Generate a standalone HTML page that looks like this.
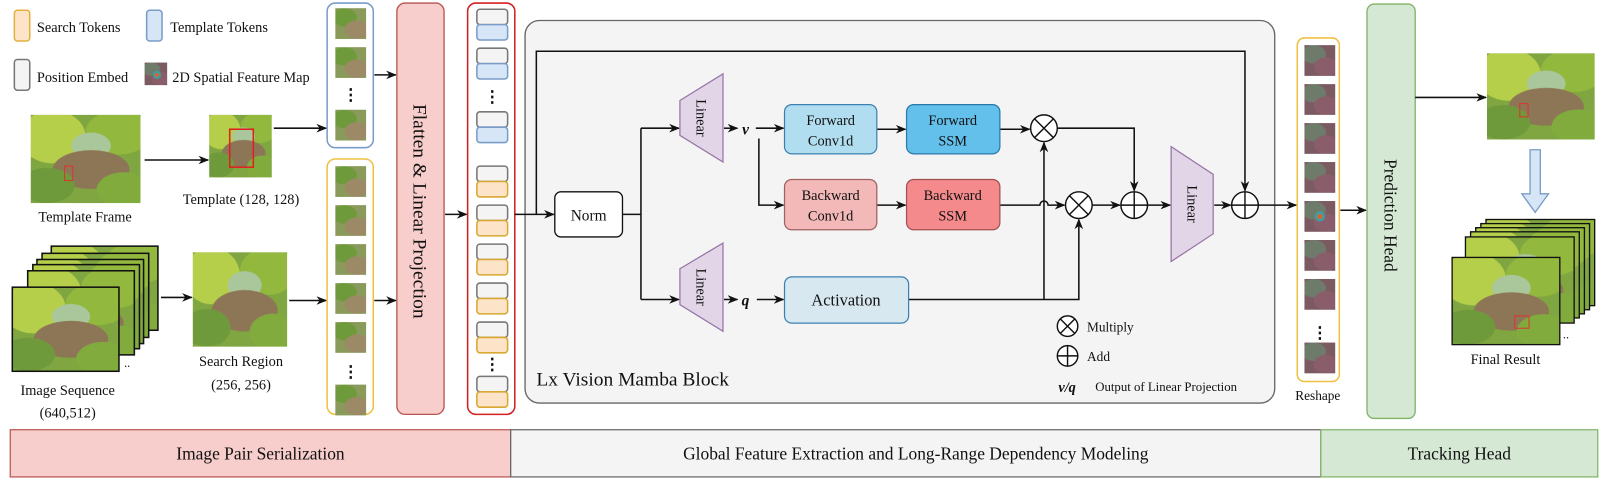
<!DOCTYPE html>
<html><head><meta charset="utf-8"><style>
html,body{margin:0;padding:0;background:#fff}
svg{display:block}
text{font-family:"Liberation Serif",serif;fill:#111}
</style></head><body>
<svg width="1608" height="480" viewBox="0 0 1568 468" preserveAspectRatio="none" xmlns="http://www.w3.org/2000/svg">
<defs>
<marker id="ar" viewBox="0 0 10 10" refX="9" refY="5" markerWidth="7" markerHeight="7" orient="auto"><path d="M0,1 L10,5 L0,9 L3,5 z" fill="#111"/></marker>
<pattern id="ph" patternUnits="objectBoundingBox" patternContentUnits="objectBoundingBox" width="1" height="1">
<rect width="1" height="1" fill="#7fa640"/>
<ellipse cx="0.2" cy="0.25" rx="0.3" ry="0.3" fill="#b6cf4a"/>
<ellipse cx="0.8" cy="0.2" rx="0.3" ry="0.25" fill="#93b83e"/>
<ellipse cx="0.55" cy="0.35" rx="0.18" ry="0.15" fill="#a9c79b"/>
<ellipse cx="0.55" cy="0.62" rx="0.35" ry="0.22" fill="#8d7655"/>
<ellipse cx="0.15" cy="0.8" rx="0.25" ry="0.2" fill="#6f9a3c"/>
<ellipse cx="0.85" cy="0.85" rx="0.25" ry="0.2" fill="#82ab3e"/>
</pattern>
<pattern id="pt" patternUnits="objectBoundingBox" patternContentUnits="objectBoundingBox" width="1" height="1">
<rect width="1" height="1" fill="#8a9a5a"/>
<ellipse cx="0.3" cy="0.3" rx="0.4" ry="0.3" fill="#6f9a3c"/>
<ellipse cx="0.7" cy="0.7" rx="0.4" ry="0.3" fill="#9c8a66"/>
</pattern>
<pattern id="pr" patternUnits="objectBoundingBox" patternContentUnits="objectBoundingBox" width="1" height="1">
<rect width="1" height="1" fill="#7c5a62"/>
<ellipse cx="0.3" cy="0.3" rx="0.4" ry="0.3" fill="#6e7a6a"/>
<ellipse cx="0.7" cy="0.7" rx="0.4" ry="0.3" fill="#8a5d6a"/>
</pattern>
</defs>

<!-- legend -->
<rect x="14" y="10" width="15" height="30" rx="3" fill="#fde3c8" stroke="#e3b23c" stroke-width="1.5"/>
<text x="36" y="31" font-size="14">Search Tokens</text>
<rect x="143" y="10" width="15" height="30" rx="3" fill="#d7e6f7" stroke="#7a9cc8" stroke-width="1.5"/>
<text x="166" y="31" font-size="14">Template Tokens</text>
<rect x="14" y="58" width="15" height="30" rx="3" fill="#f4f4f4" stroke="#777" stroke-width="1.5"/>
<text x="36" y="80" font-size="14">Position Embed</text>
<rect x="141" y="61" width="22" height="22" fill="url(#pr)"/>
<circle cx="153" cy="73" r="4" fill="#3aa0a0"/><circle cx="153" cy="73" r="2" fill="#e06030"/>
<text x="168" y="80" font-size="14">2D Spatial Feature Map</text>

<!-- template frame -->
<rect x="30" y="112" width="107" height="86" fill="url(#ph)"/>
<rect x="63" y="162" width="8" height="14" fill="none" stroke="#d33" stroke-width="1"/>
<text x="83" y="216" font-size="14" text-anchor="middle">Template Frame</text>
<line x1="141" y1="156" x2="203" y2="156" stroke="#111" stroke-width="1.5" marker-end="url(#ar)"/>
<rect x="204" y="112" width="61" height="61" fill="url(#ph)"/>
<rect x="224" y="126" width="23" height="37" fill="none" stroke="#e02020" stroke-width="1.5"/>
<text x="235" y="199" font-size="14" text-anchor="middle">Template (128, 128)</text>
<line x1="267" y1="125" x2="318" y2="125" stroke="#111" stroke-width="1.5" marker-end="url(#ar)"/>

<!-- image sequence -->
<rect x="50" y="240" width="104" height="82" fill="url(#ph)" stroke="#111" stroke-width="1.5"/>
<rect x="41" y="247" width="104" height="82" fill="url(#ph)" stroke="#111" stroke-width="1.5"/>
<rect x="36" y="253" width="104" height="82" fill="url(#ph)" stroke="#111" stroke-width="1.5"/>
<rect x="32" y="258" width="104" height="82" fill="url(#ph)" stroke="#111" stroke-width="1.5"/>
<rect x="27" y="264" width="104" height="82" fill="url(#ph)" stroke="#111" stroke-width="1.5"/>
<rect x="12" y="280" width="104" height="82" fill="url(#ph)" stroke="#111" stroke-width="1.5"/>
<text x="121" y="358" font-size="12">..</text>
<text x="66" y="385" font-size="14" text-anchor="middle">Image Sequence</text>
<text x="66" y="407" font-size="14" text-anchor="middle">(640,512)</text>
<line x1="157" y1="290" x2="187" y2="290" stroke="#111" stroke-width="1.5" marker-end="url(#ar)"/>
<rect x="188" y="246" width="92" height="92" fill="url(#ph)"/>
<text x="235" y="357" font-size="14" text-anchor="middle">Search Region</text>
<text x="235" y="380" font-size="14" text-anchor="middle">(256, 256)</text>
<line x1="282" y1="293" x2="318" y2="293" stroke="#111" stroke-width="1.5" marker-end="url(#ar)"/>

<!-- template tokens -->
<rect x="319" y="3" width="45" height="141" rx="8" fill="#fff" stroke="#7a9cc8" stroke-width="1.5"/>
<rect x="327" y="8" width="30" height="30" fill="url(#pt)"/>
<rect x="327" y="46" width="30" height="30" fill="url(#pt)"/>
<text x="342" y="98" font-size="16" text-anchor="middle" font-weight="bold">⋮</text>
<rect x="327" y="107" width="30" height="30" fill="url(#pt)"/>
<!-- search tokens -->
<rect x="319" y="155" width="45" height="249" rx="8" fill="#fff" stroke="#f0c040" stroke-width="1.5"/>
<rect x="327" y="162" width="30" height="30" fill="url(#pt)"/>
<rect x="327" y="200" width="30" height="30" fill="url(#pt)"/>
<rect x="327" y="238" width="30" height="30" fill="url(#pt)"/>
<rect x="327" y="276" width="30" height="30" fill="url(#pt)"/>
<rect x="327" y="314" width="30" height="30" fill="url(#pt)"/>
<text x="342" y="368" font-size="16" text-anchor="middle" font-weight="bold">⋮</text>
<rect x="327" y="375" width="30" height="30" fill="url(#pt)"/>
<line x1="365" y1="73" x2="386" y2="73" stroke="#111" stroke-width="1.5" marker-end="url(#ar)"/>
<line x1="365" y1="293" x2="386" y2="293" stroke="#111" stroke-width="1.5" marker-end="url(#ar)"/>

<!-- flatten -->
<rect x="387" y="3" width="46" height="401" rx="8" fill="#f8cecc" stroke="#b85450" stroke-width="1.3"/>
<text transform="translate(403,206) rotate(90)" font-size="19" text-anchor="middle">Flatten &amp; Linear Projection</text>
<line x1="434" y1="209" x2="455" y2="209" stroke="#111" stroke-width="1.5" marker-end="url(#ar)"/>

<!-- token column -->
<rect x="456" y="3" width="46" height="401" rx="8" fill="#fff" stroke="#d42020" stroke-width="1.5"/>
<g stroke-width="1.5">
<rect x="465" y="9" width="30" height="15" rx="3" fill="#f4f4f4" stroke="#777"/><rect x="465" y="24" width="30" height="15" rx="3" fill="#d7e6f7" stroke="#7a9cc8"/>
<rect x="465" y="47" width="30" height="15" rx="3" fill="#f4f4f4" stroke="#777"/><rect x="465" y="62" width="30" height="15" rx="3" fill="#d7e6f7" stroke="#7a9cc8"/>
<rect x="465" y="109" width="30" height="15" rx="3" fill="#f4f4f4" stroke="#777"/><rect x="465" y="124" width="30" height="15" rx="3" fill="#d7e6f7" stroke="#7a9cc8"/>
<rect x="465" y="162" width="30" height="15" rx="3" fill="#f4f4f4" stroke="#777"/><rect x="465" y="177" width="30" height="15" rx="3" fill="#fde3c8" stroke="#d8a830"/>
<rect x="465" y="200" width="30" height="15" rx="3" fill="#f4f4f4" stroke="#777"/><rect x="465" y="215" width="30" height="15" rx="3" fill="#fde3c8" stroke="#d8a830"/>
<rect x="465" y="238" width="30" height="15" rx="3" fill="#f4f4f4" stroke="#777"/><rect x="465" y="253" width="30" height="15" rx="3" fill="#fde3c8" stroke="#d8a830"/>
<rect x="465" y="276" width="30" height="15" rx="3" fill="#f4f4f4" stroke="#777"/><rect x="465" y="291" width="30" height="15" rx="3" fill="#fde3c8" stroke="#d8a830"/>
<rect x="465" y="314" width="30" height="15" rx="3" fill="#f4f4f4" stroke="#777"/><rect x="465" y="329" width="30" height="15" rx="3" fill="#fde3c8" stroke="#d8a830"/>
<rect x="465" y="367" width="30" height="15" rx="3" fill="#f4f4f4" stroke="#777"/><rect x="465" y="382" width="30" height="15" rx="3" fill="#fde3c8" stroke="#d8a830"/>
</g>
<text x="480" y="100" font-size="16" text-anchor="middle" font-weight="bold">⋮</text>
<text x="480" y="361" font-size="16" text-anchor="middle" font-weight="bold">⋮</text>

<!-- mamba block -->
<rect x="512" y="20" width="731" height="373" rx="14" fill="#f4f4f4" stroke="#666" stroke-width="1.3"/>
<g stroke="#111" stroke-width="1.5" fill="none">
<line x1="502" y1="209" x2="540" y2="209" marker-end="url(#ar)"/>
<polyline points="523,209 523,50 1214,50 1214,186" marker-end="url(#ar)"/>
<line x1="607" y1="209" x2="625" y2="209"/>
<polyline points="625,125 625,292"/>
<line x1="625" y1="125" x2="662" y2="125" marker-end="url(#ar)"/>
<line x1="625" y1="292" x2="662" y2="292" marker-end="url(#ar)"/>
<line x1="706" y1="125" x2="719" y2="125" marker-end="url(#ar)"/>
<line x1="706" y1="292" x2="719" y2="292" marker-end="url(#ar)"/>
<line x1="737" y1="125" x2="764" y2="125" marker-end="url(#ar)"/>
<polyline points="740,135 740,200 764,200" marker-end="url(#ar)"/>
<line x1="738" y1="292" x2="764" y2="292" marker-end="url(#ar)"/>
<line x1="855" y1="126" x2="883" y2="126" marker-end="url(#ar)"/>
<line x1="855" y1="200" x2="883" y2="200" marker-end="url(#ar)"/>
<line x1="975" y1="126" x2="1004" y2="126" marker-end="url(#ar)"/>
<polyline points="1031,125 1106,125 1106,186" marker-end="url(#ar)"/>
<path d="M975,200 L1014,200 A4,4 0 0 1 1022,200 L1038,200" marker-end="url(#ar)"/>
<polyline points="886,292 1052,292 1052,214" marker-end="url(#ar)"/>
<line x1="1018" y1="292" x2="1018" y2="139" marker-end="url(#ar)"/>
<line x1="1065" y1="200" x2="1092" y2="200" marker-end="url(#ar)"/>
<line x1="1119" y1="200" x2="1141" y2="200" marker-end="url(#ar)"/>
<line x1="1184" y1="200" x2="1200" y2="200" marker-end="url(#ar)"/>
<line x1="1227" y1="200" x2="1264" y2="200" marker-end="url(#ar)"/>
</g>
<rect x="541" y="187" width="66" height="44" rx="6" fill="#fff" stroke="#111" stroke-width="1.3"/>
<text x="574" y="215" font-size="15" text-anchor="middle">Norm</text>
<polygon points="663,98 705,72 705,158 663,132" fill="#e1d5e7" stroke="#9673a6" stroke-width="1.2"/>
<text transform="translate(679,115) rotate(90)" font-size="14" text-anchor="middle">Linear</text>
<polygon points="663,262 705,237 705,323 663,297" fill="#e1d5e7" stroke="#9673a6" stroke-width="1.2"/>
<text transform="translate(679,280) rotate(90)" font-size="14" text-anchor="middle">Linear</text>
<polygon points="1142,143 1183,170 1183,228 1142,255" fill="#e1d5e7" stroke="#9673a6" stroke-width="1.2"/>
<text transform="translate(1158,199) rotate(90)" font-size="14" text-anchor="middle">Linear</text>
<text x="727" y="131" font-size="15" font-style="italic" font-weight="bold" text-anchor="middle">v</text>
<text x="727" y="298" font-size="15" font-style="italic" font-weight="bold" text-anchor="middle">q</text>
<rect x="765" y="102" width="90" height="48" rx="7" fill="#b1ddf0" stroke="#3b80b0" stroke-width="1.2"/>
<text x="810" y="122" font-size="14" text-anchor="middle">Forward</text><text x="810" y="142" font-size="14" text-anchor="middle">Conv1d</text>
<rect x="884" y="102" width="91" height="48" rx="7" fill="#63c0ea" stroke="#2a78a8" stroke-width="1.2"/>
<text x="929" y="122" font-size="14" text-anchor="middle">Forward</text><text x="929" y="142" font-size="14" text-anchor="middle">SSM</text>
<rect x="765" y="175" width="90" height="49" rx="7" fill="#f3b8b8" stroke="#a06060" stroke-width="1.2"/>
<text x="810" y="195" font-size="14" text-anchor="middle">Backward</text><text x="810" y="215" font-size="14" text-anchor="middle">Conv1d</text>
<rect x="884" y="175" width="91" height="49" rx="7" fill="#f48a8c" stroke="#a05050" stroke-width="1.2"/>
<text x="929" y="195" font-size="14" text-anchor="middle">Backward</text><text x="929" y="215" font-size="14" text-anchor="middle">SSM</text>
<rect x="765" y="270" width="121" height="45" rx="7" fill="#d7e8f0" stroke="#3b80b0" stroke-width="1.2"/>
<text x="825" y="298" font-size="16" text-anchor="middle">Activation</text>
<g fill="#fff" stroke="#111" stroke-width="1.4">
<circle cx="1018" cy="125" r="13"/><path d="M1009,116 L1027,134 M1027,116 L1009,134"/>
<circle cx="1052" cy="200" r="13"/><path d="M1043,191 L1061,209 M1061,191 L1043,209"/>
<circle cx="1106" cy="200" r="13"/><path d="M1093,200 H1119 M1106,187 V213"/>
<circle cx="1214" cy="200" r="13"/><path d="M1201,200 H1227 M1214,187 V213"/>
<circle cx="1041" cy="318" r="10"/><path d="M1034,311 L1048,325 M1048,311 L1034,325"/>
<circle cx="1041" cy="347" r="10"/><path d="M1031,347 H1051 M1041,337 V357"/>
</g>
<text x="1060" y="323" font-size="13">Multiply</text>
<text x="1060" y="352" font-size="13">Add</text>
<text x="1032" y="382" font-size="14" font-style="italic" font-weight="bold">v/q</text>
<text x="1068" y="381" font-size="12.5">Output of Linear Projection</text>
<text x="523" y="376" font-size="19">Lx Vision Mamba Block</text>

<!-- reshape -->
<rect x="1265" y="37" width="41" height="335" rx="7" fill="#fff" stroke="#f0c040" stroke-width="1.5"/>
<rect x="1272" y="44" width="30" height="30" fill="url(#pr)"/>
<rect x="1272" y="82" width="30" height="30" fill="url(#pr)"/>
<rect x="1272" y="120" width="30" height="30" fill="url(#pr)"/>
<rect x="1272" y="158" width="30" height="30" fill="url(#pr)"/>
<rect x="1272" y="196" width="30" height="30" fill="url(#pr)"/>
<circle cx="1287" cy="211" r="5" fill="#3aa0a0"/><circle cx="1287" cy="211" r="2.5" fill="#e06030"/>
<rect x="1272" y="234" width="30" height="30" fill="url(#pr)"/>
<rect x="1272" y="272" width="30" height="30" fill="url(#pr)"/>
<text x="1287" y="330" font-size="16" text-anchor="middle" font-weight="bold">⋮</text>
<rect x="1272" y="334" width="30" height="30" fill="url(#pr)"/>
<text x="1285" y="390" font-size="13" text-anchor="middle">Reshape</text>
<line x1="1307" y1="205" x2="1332" y2="205" stroke="#111" stroke-width="1.5" marker-end="url(#ar)"/>

<!-- prediction head -->
<rect x="1333" y="4" width="47" height="404" rx="7" fill="#d5e8d4" stroke="#82b366" stroke-width="1.3"/>
<text transform="translate(1350,210) rotate(90)" font-size="17" text-anchor="middle">Prediction Head</text>
<line x1="1380" y1="95" x2="1449" y2="95" stroke="#111" stroke-width="1.5" marker-end="url(#ar)"/>
<rect x="1450" y="52" width="105" height="84" fill="url(#ph)"/>
<rect x="1482" y="101" width="8" height="13" fill="none" stroke="#d33" stroke-width="1"/>
<polygon points="1492,146 1502,146 1502,189 1510,189 1497,207 1484,189 1492,189" fill="#d7e6f7" stroke="#7a9cc8" stroke-width="1.3"/>
<rect x="1449" y="214" width="106" height="84" fill="url(#ph)" stroke="#111" stroke-width="1.3"/>
<rect x="1444" y="218" width="106" height="84" fill="url(#ph)" stroke="#111" stroke-width="1.3"/>
<rect x="1439" y="222" width="106" height="84" fill="url(#ph)" stroke="#111" stroke-width="1.3"/>
<rect x="1434" y="226" width="106" height="84" fill="url(#ph)" stroke="#111" stroke-width="1.3"/>
<rect x="1429" y="231" width="106" height="84" fill="url(#ph)" stroke="#111" stroke-width="1.3"/>
<rect x="1416" y="251" width="105" height="85" fill="url(#ph)" stroke="#111" stroke-width="1.3"/>
<rect x="1477" y="308" width="14" height="12" fill="none" stroke="#d33" stroke-width="1"/>
<text x="1524" y="330" font-size="12">..</text>
<text x="1468" y="355" font-size="14" text-anchor="middle">Final Result</text>

<!-- banner -->
<rect x="10" y="419" width="488" height="46" fill="#f8cecc" stroke="#b85450" stroke-width="1.2"/>
<rect x="498" y="419" width="790" height="46" fill="#f4f4f4" stroke="#666" stroke-width="1.2"/>
<rect x="1288" y="419" width="270" height="46" fill="#d5e8d4" stroke="#82b366" stroke-width="1.2"/>
<text x="254" y="448" font-size="17" text-anchor="middle">Image Pair Serialization</text>
<text x="893" y="448" font-size="17" text-anchor="middle">Global Feature Extraction and Long-Range Dependency Modeling</text>
<text x="1423" y="448" font-size="17" text-anchor="middle">Tracking Head</text>
</svg>
</body></html>
